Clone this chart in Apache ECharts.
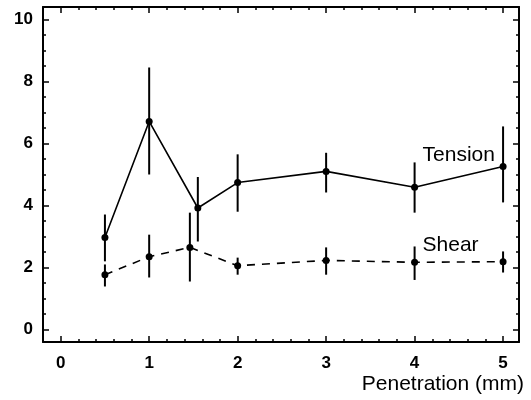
<!DOCTYPE html>
<html>
<head>
<meta charset="utf-8">
<script src="https://cdn.jsdelivr.net/npm/echarts@6/dist/echarts.min.js"></script>
<style>
  html, body { margin: 0; padding: 0; background: #fff; }
  #chart { width: 531px; height: 400px; }
</style>
</head>
<body>
<div id="chart"></div>
<script>
// Penetration (mm) positions for each measurement
const tensionX = [0.5, 1, 1.55, 2, 3, 4, 5];
const tensionY = [2.97, 6.71, 3.92, 4.74, 5.1, 4.59, 5.26];
const tensionLow = [2.2, 5.0, 2.84, 3.8, 4.42, 3.77, 4.1];
const tensionHigh = [3.71, 8.45, 4.92, 5.65, 5.7, 5.39, 6.55];

const shearX = [0.5, 1, 1.46, 2, 3, 4, 5];
const shearY = [1.77, 2.35, 2.65, 2.06, 2.23, 2.17, 2.19];
const shearLow = [1.39, 1.68, 1.55, 1.77, 1.77, 1.6, 1.84];
const shearHigh = [2.1, 3.06, 3.77, 2.32, 2.65, 2.68, 2.52];

const xMajorTicks = [0, 1, 2, 3, 4, 5];
const xMinorTicks = [0.2, 0.4, 0.6, 0.8, 1.2, 1.4, 1.6, 1.8, 2.2, 2.4, 2.6, 2.8,
  3.2, 3.4, 3.6, 3.8, 4.2, 4.4, 4.6, 4.8];
const yMajorTicks = [0, 2, 4, 6, 8, 10];
const yMinorTicks = [0.5, 1, 1.5, 2.5, 3, 3.5, 4.5, 5, 5.5, 6.5, 7, 7.5, 8.5, 9, 9.5];

// Series name labels placed beside the curves
const seriesLabels = [
  { name: 'Tension', x: 4.09, y: 5.62 },
  { name: 'Shear', x: 4.09, y: 2.72 }
];

const X_MIN = -0.2, X_MAX = 5.18, Y_MIN = -0.4, Y_MAX = 10.4;
const INK = '#000';
const FONT = '"Liberation Sans", Arial, Helvetica, sans-serif';

function pairs(xs, ys) { return xs.map((x, i) => [x, ys[i]]); }
function barData(xs, lo, hi) { return xs.map((x, i) => [x, lo[i], hi[i]]); }

function errorBars(xs, lo, hi) {
  return {
    type: 'custom',
    xAxisIndex: 0,
    yAxisIndex: 0,
    data: barData(xs, lo, hi),
    renderItem: function (params, api) {
      const a = api.coord([api.value(0), api.value(1)]);
      const b = api.coord([api.value(0), api.value(2)]);
      return {
        type: 'line',
        shape: { x1: a[0], y1: a[1], x2: b[0], y2: b[1] },
        style: { stroke: INK, lineWidth: 2 }
      };
    },
    silent: true,
    z: 3
  };
}

function xAxisDef(position, ticks, len, showLine, showLabels) {
  return {
    type: 'value', position: position, min: X_MIN, max: X_MAX,
    axisLine: { show: showLine, onZero: false, lineStyle: { color: INK, width: 2 } },
    axisTick: { show: true, inside: true, length: len, customValues: ticks,
      lineStyle: { color: INK, width: 1.5 } },
    axisLabel: showLabels ? {
      show: true, customValues: xMajorTicks, margin: 13,
      color: INK, fontSize: 17, fontWeight: 'bold', fontFamily: FONT
    } : { show: false },
    splitLine: { show: false }
  };
}

function yAxisDef(position, ticks, len, showLine, showLabels) {
  return {
    type: 'value', position: position, min: Y_MIN, max: Y_MAX,
    axisLine: { show: showLine, onZero: false, lineStyle: { color: INK, width: 2 } },
    axisTick: { show: true, inside: true, length: len, customValues: ticks,
      lineStyle: { color: INK, width: 1.5 } },
    axisLabel: showLabels ? {
      show: true, customValues: yMajorTicks, margin: 10,
      color: INK, fontSize: 17, fontWeight: 'bold', fontFamily: FONT
    } : { show: false },
    splitLine: { show: false }
  };
}

const xBottom = xAxisDef('bottom', xMajorTicks, 6, true, true);
xBottom.name = 'Penetration (mm)';
xBottom.nameLocation = 'end';
xBottom.nameGap = 5;
xBottom.nameTextStyle = {
  color: INK, fontSize: 21, fontFamily: FONT,
  align: 'right', verticalAlign: 'top', padding: [32, 0, 0, 0]
};

const option = {
  animation: false,
  backgroundColor: '#fff',
  grid: { left: 43, right: 12, top: 7, bottom: 58, containLabel: false },
  xAxis: [
    xBottom,
    xAxisDef('bottom', xMinorTicks, 3, false, false),
    xAxisDef('top', xMajorTicks, 6, true, false),
    xAxisDef('top', xMinorTicks, 3, false, false)
  ],
  yAxis: [
    yAxisDef('left', yMajorTicks, 6, true, true),
    yAxisDef('left', yMinorTicks, 3, false, false),
    yAxisDef('right', yMajorTicks, 6, true, false),
    yAxisDef('right', yMinorTicks, 3, false, false)
  ],
  series: [
    errorBars(tensionX, tensionLow, tensionHigh),
    errorBars(shearX, shearLow, shearHigh),
    {
      name: 'Tension', type: 'line', xAxisIndex: 0, yAxisIndex: 0,
      data: pairs(tensionX, tensionY),
      symbol: 'circle', symbolSize: 7,
      itemStyle: { color: INK },
      lineStyle: { color: INK, width: 1.6 },
      z: 4
    },
    {
      name: 'Shear', type: 'line', xAxisIndex: 0, yAxisIndex: 0,
      data: pairs(shearX, shearY),
      symbol: 'circle', symbolSize: 7,
      itemStyle: { color: INK },
      lineStyle: { color: INK, width: 1.6, type: [8, 7] },
      z: 4
    },
    {
      type: 'scatter', xAxisIndex: 0, yAxisIndex: 0,
      data: seriesLabels.map(d => ({ name: d.name, value: [d.x, d.y] })),
      symbolSize: 0,
      silent: true,
      itemStyle: { opacity: 1 },
      label: {
        show: true, position: 'right', distance: 0,
        formatter: '{b}', color: INK, fontSize: 21, fontFamily: FONT
      },
      z: 5
    }
  ]
};

const chart = echarts.init(document.getElementById('chart'), null, { renderer: 'canvas' });
chart.setOption(option);
</script>
</body>
</html>
